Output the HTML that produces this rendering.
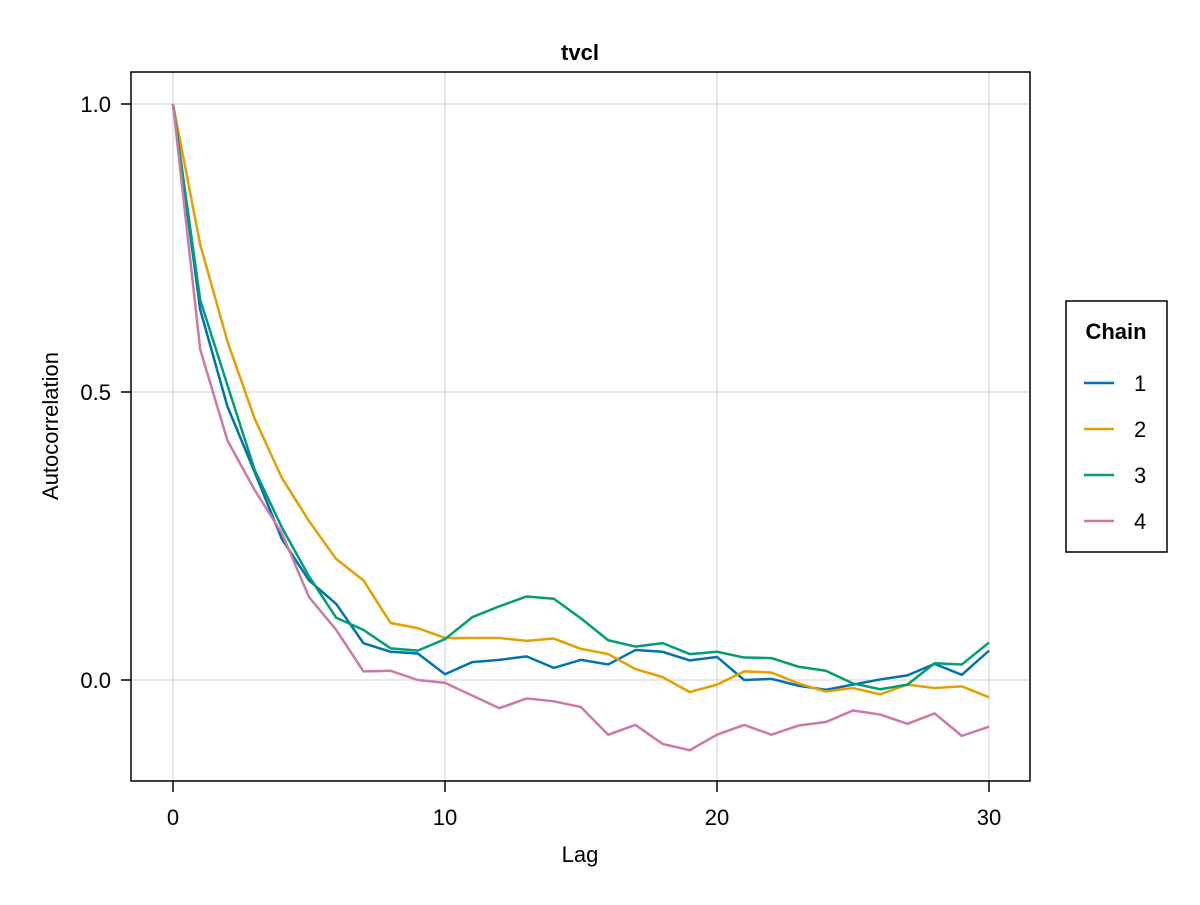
<!DOCTYPE html>
<html><head><meta charset="utf-8"><style>
body{margin:0;background:#fff;font-family:"Liberation Sans",Arial,sans-serif}
text{font-family:"Liberation Sans",Arial,sans-serif}
</style></head><body>
<svg id="chart" width="1200" height="900" xmlns="http://www.w3.org/2000/svg">
<rect width="1200" height="900" fill="#fff"/>
<g id="grid"></g>
<g id="series"></g>
<rect x="131" y="72" width="899" height="709" fill="none" stroke="#000" stroke-width="1.5"/>
<g id="ticks"></g>
<text x="580" y="60" text-anchor="middle" font-size="22" font-weight="bold">tvcl</text>
<text x="580" y="862" text-anchor="middle" font-size="22">Lag</text>
<text transform="translate(58,426) rotate(-90)" text-anchor="middle" font-size="22">Autocorrelation</text>
<g id="legend">
<rect x="1066" y="301" width="101" height="251" fill="#fff" stroke="#000" stroke-width="1.5"/>
<text x="1116" y="339" text-anchor="middle" font-size="22" font-weight="bold">Chain</text>
</g>
</svg>
<script>
const lags=[...Array(31).keys()];
const chain1=[1,0.643,0.475,0.361,0.245,0.173,0.132,0.064,0.049,0.046,0.010,0.031,0.035,0.041,0.021,0.035,0.027,0.052,0.049,0.034,0.040,0.000,0.002,-0.010,-0.017,-0.008,0.001,0.008,0.028,0.009,0.051];
const chain2=[1,0.756,0.588,0.454,0.351,0.276,0.210,0.173,0.099,0.090,0.073,0.073,0.073,0.068,0.072,0.054,0.045,0.019,0.005,-0.021,-0.008,0.015,0.013,-0.006,-0.020,-0.014,-0.025,-0.008,-0.014,-0.011,-0.030];
const chain3=[1,0.660,0.512,0.365,0.265,0.180,0.108,0.087,0.055,0.051,0.071,0.109,0.128,0.145,0.141,0.107,0.069,0.058,0.064,0.045,0.049,0.039,0.038,0.023,0.016,-0.006,-0.016,-0.008,0.029,0.027,0.065];
const chain4=[1,0.574,0.416,0.330,0.255,0.144,0.087,0.015,0.016,0.000,-0.005,-0.027,-0.049,-0.032,-0.037,-0.047,-0.095,-0.078,-0.111,-0.122,-0.095,-0.078,-0.095,-0.079,-0.073,-0.053,-0.060,-0.076,-0.058,-0.097,-0.081];
const seriesNames=["1","2","3","4"];
const xTicks=[0,10,20,30];
const yTicks=[0,0.5,1.0];
const yTickLabels=["0.0","0.5","1.0"];
const colors=["#0072b2","#e69f00","#009e73","#cc79a7"];
const NS="http://www.w3.org/2000/svg";
const X=v=>173+v*27.2;
const Y=v=>680-v*576;
function mk(tag,attrs,parent){const e=document.createElementNS(NS,tag);for(const k in attrs)e.setAttribute(k,attrs[k]);parent.appendChild(e);return e;}
const grid=document.getElementById('grid'),ticks=document.getElementById('ticks');
xTicks.forEach(t=>{
 const g=mk('line',{x1:X(t),x2:X(t),y1:72,y2:781,stroke:'#000','stroke-opacity':0.12,'stroke-width':1.5},grid);
 
 
 const tk=mk('line',{x1:X(t),x2:X(t),y1:781,y2:792,stroke:'#000','stroke-width':1.5},ticks);
 
 
 const tx=mk('text',{x:X(t),y:825,'text-anchor':'middle','font-size':22},ticks);
 
 
 tx.textContent=String(t);
});
yTicks.forEach((t,i)=>{
 const g=mk('line',{x1:131,x2:1030,y1:Y(t),y2:Y(t),stroke:'#000','stroke-opacity':0.12,'stroke-width':1.5},grid);
 
 
 const tk=mk('line',{x1:121,x2:131,y1:Y(t),y2:Y(t),stroke:'#000','stroke-width':1.5},ticks);
 
 
 const tx=mk('text',{x:111,y:Y(t)+8,'text-anchor':'end','font-size':22},ticks);
 
 
 tx.textContent=yTickLabels[i];
});
const sg=document.getElementById('series');
[chain1,chain2,chain3,chain4].forEach((d,i)=>{
 const p=mk('polyline',{points:d.map((v,j)=>X(lags[j])+','+Y(v)).join(' '),fill:'none',stroke:colors[i],'stroke-width':2.5,'stroke-linejoin':'round'},sg);
 
 
});
const lg=document.getElementById('legend');
seriesNames.forEach((n,i)=>{
 const y=383+i*46;
 const l=mk('line',{x1:1084,x2:1114,y1:y,y2:y,stroke:colors[i],'stroke-width':2.5},lg);
 
 
 const t=mk('text',{x:1134,y:y+8,'font-size':22},lg);
 
 
 t.textContent=n;
});
</script>
</body></html>
